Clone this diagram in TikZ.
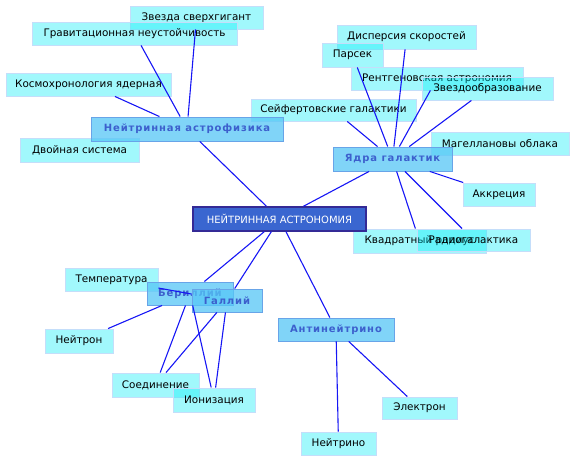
\documentclass[tikz,border=0pt]{standalone}
\usepackage{fontspec}
\setmainfont{DejaVu Sans}
\newfontfamily\midfont[LetterSpace=9]{DejaVu Sans}
\definecolor{leaffill}{RGB}{0,236,247}
\definecolor{leafborder}{RGB}{196,222,250}
\definecolor{midfill}{RGB}{86,198,246}
\definecolor{midborder}{RGB}{104,164,232}
\definecolor{midtext}{RGB}{60,95,205}
\definecolor{topfill}{RGB}{58,102,208}
\definecolor{topborder}{RGB}{52,42,150}
\definecolor{linkcol}{RGB}{22,22,245}
\tikzset{
  leaf/.style={draw=leafborder, line width=0.9pt, fill=leaffill, fill opacity=0.37,
    text opacity=1, inner sep=0pt, text=black, font=\fontsize{10.4}{12}\selectfont},
  mid/.style={draw=midborder, line width=0.9pt, fill=midfill, fill opacity=0.75,
    text opacity=1, inner sep=0pt, text=midtext, font=\midfont\bfseries\fontsize{10}{12}\selectfont},
  top/.style={draw=topborder, line width=1.4pt, fill=topfill, inner sep=0pt,
    text=white, font=\fontsize{10}{12}\selectfont},
  link/.style={draw=linkcol, line width=1.1pt}
}
\begin{document}
\begin{tikzpicture}[x=1pt,y=-1pt]
\useasboundingbox (0,0) rectangle (576,462);
% leaves
\node[leaf, minimum width=133pt, minimum height=23pt] (zvezda) at (196.5,17.5) {Звезда сверхгигант};
\node[leaf, minimum width=205pt, minimum height=23pt] (grav) at (134.5,33.5) {Гравитационная неустойчивость};
\node[leaf, minimum width=165pt, minimum height=23pt] (kosmo) at (88.5,84.5) {Космохронология ядерная};
\node[leaf, minimum width=119pt, minimum height=24pt] (dvoin) at (79.5,150) {Двойная система};
\node[leaf, minimum width=139pt, minimum height=24pt] (disp) at (406.5,37) {Дисперсия скоростей};
\node[leaf, minimum width=61pt, minimum height=24pt] (parsek) at (352.5,55) {Парсек};
\node[leaf, minimum width=172pt, minimum height=23pt] (rentg) at (437,78.5) {Рентгеновская астрономия};
\node[leaf, minimum width=131pt, minimum height=23pt] (zvobr) at (487.5,88.5) {Звездообразование};
\node[leaf, minimum width=165pt, minimum height=22pt] (seif) at (333.5,110) {Сейфертовские галактики};
\node[leaf, minimum width=138pt, minimum height=23pt] (magel) at (500,143.5) {Магеллановы облака};
\node[leaf, minimum width=72pt, minimum height=23pt] (akkr) at (499,194.5) {Аккреция};
\node[leaf, minimum width=133pt, minimum height=24pt] (kvadr) at (419.5,241) {Квадратный радиус};
\node[leaf, minimum width=113pt, minimum height=22pt] (radio) at (473.5,240) {Радиогалактика};
\node[leaf, minimum width=93pt, minimum height=23pt] (temp) at (111.5,279.5) {Температура};
\node[leaf, minimum width=68pt, minimum height=24pt] (neitron) at (79,341) {Нейтрон};
\node[leaf, minimum width=87pt, minimum height=24pt] (soed) at (155.5,385) {Соединение};
\node[leaf, minimum width=82pt, minimum height=24pt] (ioniz) at (214,400) {Ионизация};
\node[leaf, minimum width=75pt, minimum height=22pt] (elektron) at (419.5,408) {Электрон};
\node[leaf, minimum width=75pt, minimum height=23pt] (neitrino) at (338.5,443.5) {Нейтрино};
% level one
\node[mid, minimum width=192pt, minimum height=24pt] (na) at (187,129) {Нейтринная астрофизика};
\node[mid, minimum width=119pt, minimum height=24pt] (yadra) at (392.5,159) {Ядра галактик};
\node[mid, minimum width=86pt, minimum height=23pt] (beril) at (190,293.5) {Бериллий};
\node[mid, minimum width=70pt, minimum height=23pt] (gallii) at (227,300.5) {Галлий};
\node[mid, minimum width=116pt, minimum height=23pt] (anti) at (336,329.5) {Антинейтрино};
% centre
\node[top, minimum width=173pt, minimum height=24pt] (root) at (279.5,219) {НЕЙТРИННАЯ АСТРОНОМИЯ};
% links
\draw[link] (root) -- (na);
\draw[link] (root) -- (yadra);
\draw[link] (root) -- (beril);
\draw[link] (root) -- (gallii);
\draw[link] (root) -- (anti);
\draw[link] (na) -- (zvezda);
\draw[link] (na) -- (grav);
\draw[link] (na) -- (kosmo);
\draw[link] (yadra) -- (disp);
\draw[link] (yadra) -- (parsek);
\draw[link] (yadra) -- (rentg);
\draw[link] (yadra) -- (zvobr);
\draw[link] (yadra) -- (seif);
\draw[link] (yadra) -- (akkr);
\draw[link] (yadra) -- (kvadr);
\draw[link] (yadra) -- (radio);
\draw[link] (beril) -- (neitron);
\draw[link] (beril) -- (soed);
\draw[link] (beril) -- (ioniz);
\draw[link] (gallii) -- (temp);
\draw[link] (gallii) -- (soed);
\draw[link] (gallii) -- (ioniz);
\draw[link] (anti) -- (elektron);
\draw[link] (anti) -- (neitrino);
\end{tikzpicture}
\end{document}
